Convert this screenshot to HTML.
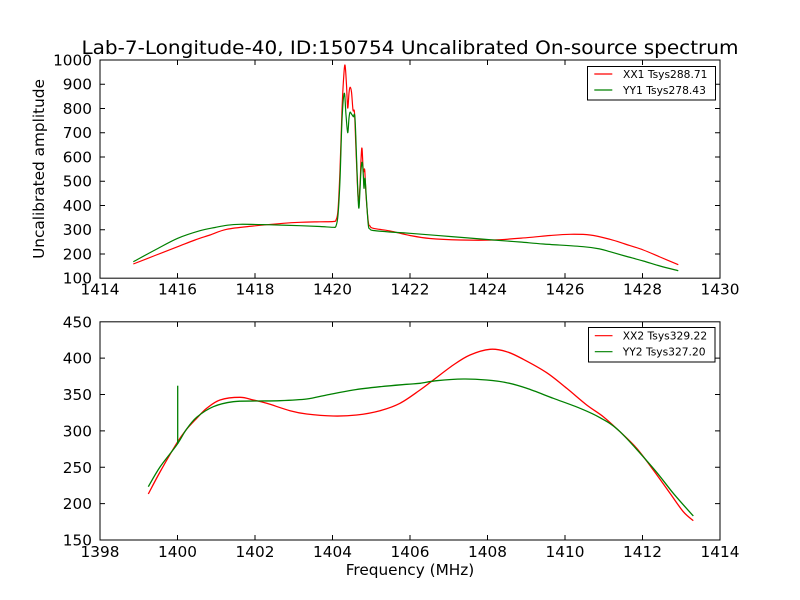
<!DOCTYPE html>
<html>
<head>
<meta charset="utf-8">
<style>
html,body{margin:0;padding:0;background:#fff;}
svg{display:block;}
text{font-family:"DejaVu Sans","Liberation Sans",sans-serif;fill:#000;}
</style>
</head>
<body>
<svg width="800" height="600" viewBox="0 0 800 600" xmlns="http://www.w3.org/2000/svg">
<rect x="0" y="0" width="800" height="600" fill="#fff"/>
<defs>
<clipPath id="c1"><rect x="100" y="60" width="620" height="218.18"/></clipPath>
<clipPath id="c2"><rect x="100" y="321.82" width="620" height="218.18"/></clipPath>
</defs>

<!-- Title -->
<text x="410" y="54" font-size="19" text-anchor="middle" textLength="657" lengthAdjust="spacingAndGlyphs">Lab-7-Longitude-40, ID:150754 Uncalibrated On-source spectrum</text>

<!-- ===== TOP AXES ===== -->
<g clip-path="url(#c1)" fill="none" stroke-width="1.2" stroke-linejoin="round">
<polyline class="sm" stroke="#ff0000" points="133.3,264 155,255.5 177.7,246.7 195,240 210,235 226.7,229.3 253.3,226 283.3,223.3 300,222.3 320,221.8 333.3,221.5 336,220 338,210 340,170 342,110 343.5,80 345,65 346.5,85 347.7,108 349,93 350,87.3 351.5,92 353,110 354.5,113 356,150 358.3,200 360,185 361,160 362,148.3 363.3,171 364.7,170 366,195 368.3,221.7 370,226 373.3,228.3 390,231 410,235.5 430,238.5 460,240 493.3,240 526.7,237.7 550,235.5 570,234.3 590,235 610,239.3 625,244 643.3,250 660,257 678.3,264.7"/>
<polyline class="sm" stroke="#008000" points="133.3,261.7 155,250 177.7,238.3 200,230.7 215,227.5 226.7,225.3 240,224.3 266.7,224.7 300,225.7 320,226.5 333.3,227.3 336,226 338,215 340,180 342,120 344.3,93.3 346,115 347.7,132.7 349,118 350,112.3 351.5,114 353.3,116.7 355,118.3 357,170 358.7,207.7 360,190 361,170 362.3,162.3 363.3,175 364,188.3 365,178.3 366.5,200 368.3,225 370,229 373.3,230.5 390,232 410,233.3 450,236.5 493.3,240 520,242 543.3,244 583.3,246.7 600,249 610,251.7 625,256 643.3,261 660,266 678.3,270.7"/>
</g>
<rect x="100" y="60" width="620" height="218.18" fill="none" stroke="#000" stroke-width="1"/>
<g stroke="#000" stroke-width="1">
<path d="M177.5,278.18v-5M255,278.18v-5M332.5,278.18v-5M410,278.18v-5M487.5,278.18v-5M565,278.18v-5M642.5,278.18v-5"/>
<path d="M177.5,60v5M255,60v5M332.5,60v5M410,60v5M487.5,60v5M565,60v5M642.5,60v5"/>
<path d="M100,84.24h5M100,108.48h5M100,132.73h5M100,156.97h5M100,181.21h5M100,205.45h5M100,229.7h5M100,253.94h5"/>
<path d="M720,84.24h-5M720,108.48h-5M720,132.73h-5M720,156.97h-5M720,181.21h-5M720,205.45h-5M720,229.7h-5M720,253.94h-5"/>
</g>
<g font-size="15.3" text-anchor="middle">
<text x="100" y="294.5">1414</text>
<text x="177.5" y="294.5">1416</text>
<text x="255" y="294.5">1418</text>
<text x="332.5" y="294.5">1420</text>
<text x="410" y="294.5">1422</text>
<text x="487.5" y="294.5">1424</text>
<text x="565" y="294.5">1426</text>
<text x="642.5" y="294.5">1428</text>
<text x="720" y="294.5">1430</text>
</g>
<g font-size="15.3" text-anchor="end">
<text x="92" y="65.5">1000</text>
<text x="92" y="89.7">900</text>
<text x="92" y="114">800</text>
<text x="92" y="138.2">700</text>
<text x="92" y="162.5">600</text>
<text x="92" y="186.7">500</text>
<text x="92" y="211">400</text>
<text x="92" y="235.2">300</text>
<text x="92" y="259.4">200</text>
<text x="92" y="283.7">100</text>
</g>
<text transform="translate(44,169) rotate(-90)" font-size="15.3" text-anchor="middle">Uncalibrated amplitude</text>

<!-- top legend -->
<rect x="587.5" y="66.5" width="128" height="33.5" fill="#fff" stroke="#000" stroke-width="1"/>
<line x1="594.3" y1="74" x2="612.3" y2="74" stroke="#ff0000" stroke-width="1.2"/>
<line x1="594.3" y1="90" x2="612.3" y2="90" stroke="#008000" stroke-width="1.2"/>
<text x="623" y="78" font-size="10.7">XX1 Tsys288.71</text>
<text x="623" y="94" font-size="10.7">YY1 Tsys278.43</text>

<!-- ===== BOTTOM AXES ===== -->
<g clip-path="url(#c2)" fill="none" stroke-width="1.3" stroke-linejoin="round">
<polyline class="sm" stroke="#ff0000" points="148.3,494 160,472 176.7,443.3 186,430 196.7,418.3 206.7,408.3 220,400 240,397.3 253.3,400 266.7,403.3 290,410.7 306.7,414 333.3,416 356.7,415 380,410.7 400,403.3 420,390 433.3,380 453.3,365 470,355 490,349.3 506.7,351.7 523.3,359.3 546.7,372.7 566.7,388.3 586.7,405 603.3,416.7 620,431.7 636.7,448.3 653.3,470 670,493.3 683.3,511.7 693.3,520.7"/>
<polyline class="sm" stroke="#008000" points="148.3,486.7 160,467 176.7,445 186,430 196.7,417.3 213.3,406.7 233.3,401.7 256.7,401 280,400.7 306.7,399 326.7,395 353.3,390 380,386.7 406.7,384.3 420,383.3 436.7,380.7 463.3,379 486.7,380 506.7,382.7 526.7,388.3 553.3,398.3 580,408.3 600,417.7 620,431.7 653.3,468.3 673.3,493.3 693.3,516"/>
<line x1="177.7" y1="444" x2="177.7" y2="385.7" stroke="#008000" stroke-width="1.3"/>
</g>
<rect x="100" y="321.82" width="620" height="218.18" fill="none" stroke="#000" stroke-width="1"/>
<g stroke="#000" stroke-width="1">
<path d="M177.5,540v-5M255,540v-5M332.5,540v-5M410,540v-5M487.5,540v-5M565,540v-5M642.5,540v-5"/>
<path d="M177.5,321.82v5M255,321.82v5M332.5,321.82v5M410,321.82v5M487.5,321.82v5M565,321.82v5M642.5,321.82v5"/>
<path d="M100,358.18h5M100,394.55h5M100,430.91h5M100,467.27h5M100,503.64h5"/>
<path d="M720,358.18h-5M720,394.55h-5M720,430.91h-5M720,467.27h-5M720,503.64h-5"/>
</g>
<g font-size="15.3" text-anchor="middle">
<text x="100" y="557">1398</text>
<text x="177.5" y="557">1400</text>
<text x="255" y="557">1402</text>
<text x="332.5" y="557">1404</text>
<text x="410" y="557">1406</text>
<text x="487.5" y="557">1408</text>
<text x="565" y="557">1410</text>
<text x="642.5" y="557">1412</text>
<text x="720" y="557">1414</text>
</g>
<g font-size="15.3" text-anchor="end">
<text x="92" y="327.3">450</text>
<text x="92" y="363.7">400</text>
<text x="92" y="400">350</text>
<text x="92" y="436.4">300</text>
<text x="92" y="472.8">250</text>
<text x="92" y="509.1">200</text>
<text x="92" y="545.5">150</text>
</g>
<text x="410" y="575" font-size="15.3" text-anchor="middle">Frequency (MHz)</text>

<!-- bottom legend -->
<rect x="588.5" y="327.5" width="126.5" height="34.5" fill="#fff" stroke="#000" stroke-width="1"/>
<line x1="594.8" y1="335.7" x2="612.5" y2="335.7" stroke="#ff0000" stroke-width="1.2"/>
<line x1="594.8" y1="351.7" x2="612.5" y2="351.7" stroke="#008000" stroke-width="1.2"/>
<text x="622.7" y="339.7" font-size="10.7">XX2 Tsys329.22</text>
<text x="622.7" y="355.7" font-size="10.7">YY2 Tsys327.20</text>
</svg>
<script>
(function(){
  try{
    var NS="http://www.w3.org/2000/svg";
    var pls=document.querySelectorAll("polyline.sm");
    for(var k=0;k<pls.length;k++){
      var pl=pls[k];
      var raw=pl.getAttribute("points").trim().split(/\s+/);
      var p=raw.map(function(s){var a=s.split(",");return [parseFloat(a[0]),parseFloat(a[1])];});
      var d="M"+p[0][0]+","+p[0][1];
      for(var i=0;i<p.length-1;i++){
        var p0=p[i>0?i-1:i],p1=p[i],p2=p[i+1],p3=p[i+2<p.length?i+2:i+1];
        var c1x=p1[0]+(p2[0]-p0[0])/6,c1y=p1[1]+(p2[1]-p0[1])/6;
        var c2x=p2[0]-(p3[0]-p1[0])/6,c2y=p2[1]-(p3[1]-p1[1])/6;
        d+=" C"+c1x.toFixed(2)+","+c1y.toFixed(2)+" "+c2x.toFixed(2)+","+c2y.toFixed(2)+" "+p2[0]+","+p2[1];
      }
      var path=document.createElementNS(NS,"path");
      path.setAttribute("d",d);
      path.setAttribute("stroke",pl.getAttribute("stroke"));
      path.setAttribute("fill","none");
      pl.parentNode.replaceChild(path,pl);
    }
  }catch(e){}
})();
</script>
</body>
</html>
